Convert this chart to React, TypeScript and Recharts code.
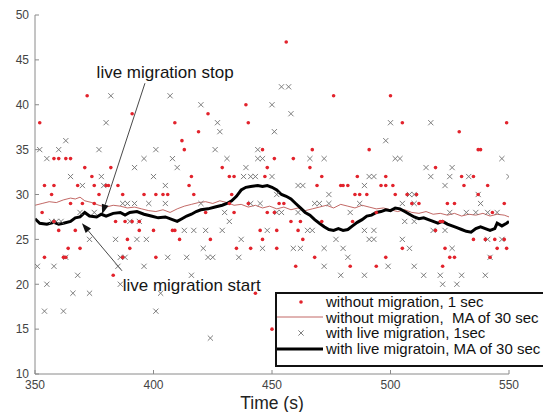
import React from 'react';
import { ComposedChart, Scatter, Line, XAxis, YAxis, Legend, ReferenceLine, ReferenceDot, Label } from 'recharts';

const xTicks = [350, 400, 450, 500, 550];
const yTicks = [10, 15, 20, 25, 30, 35, 40, 45, 50];

// without migration, 1 sec (red dots) [time, value]
const withoutMigration1s: [number, number][] = [
  [352,38],[372,41],[391,39],[409,38],[412,36],[413,35],[419,37],[423,39],[439,40],[440,38],[456,47],[476,41],[500,41],[505,38],[529,37],[549,38],
  [467,35],[491,35],[537,35],[538,35],[446,35],[451,34],[459,34],[358,34],[360,34],[363,34],[365,34],[371,33],[382,33],[429,33],[448,33],[466,33],[519,33],
  [374,32],[416,32],[432,32],[434,32],[447,32],[471,32],[486,32],[498,32],[530,32],[535,32],
  [354,31],[358,31],[368,31],[375,31],[380,31],[381,31],[385,31],[415,31],[469,31],[479,31],[480,31],[482,31],[496,31],[498,31],[501,31],[531,31],[541,31],
  [357,30],[377,30],[387,30],[396,30],[401,30],[404,30],[406,30],[417,30],[433,30],[485,30],[487,30],[490,30],[502,30],[507,30],[511,30],[537,30],
  [365,29],[370,29],[375,29],[432,29],[440,29],[453,29],[455,29],[509,29],[512,29],[524,29],[527,29],[548,29],
  [353,28],[422,28],[434,28],[448,28],[451,28],[494,28],[543,28],
  [358,27],[384,27],[388,27],[391,27],[394,27],[458,27],[462,27],[471,27],[484,27],[521,27],[522,27],
  [360,26],[367,26],[394,26],[400,26],[408,26],[409,26],[445,26],[452,26],[461,26],[519,26],
  [389,25],[411,25],[424,25],[446,25],[463,25],[535,25],[540,25],[544,25],[548,25],
  [364,24],[369,24],[390,24],[435,24],[441,24],[452,24],[505,24],[523,24],[545,24],[549,24],
  [354,23],[362,23],[363,23],[387,23],[401,23],[468,23],[498,23],[525,23],[527,23],[542,23],
  [460,22],[483,22],[494,22],[522,22],
  [383,21],[443,19],[450,15],
];

// with live migration, 1sec (gray crosses) [time, value]
const withMigration1s: [number, number][] = [
  [352,35],[355,34],[360,35],[363,36],[365,32],[370,31],[377,35],[382,41],[380,38],[378,32],[379,31],[392,33],[396,34],[401,35],[400,32],[405,31],
  [407,41],[408,34],[410,33],[420,40],[427,38],[428,37],[426,35],[431,34],[439,33],[438,32],[441,32],[443,32],[444,34],[446,34],[444,35],
  [450,40],[451,37],[454,42],[457,42],[458,39],[498,36],[500,38],[517,38],[466,34],[472,34],[502,34],[504,34],[547,34],[515,33],[526,33],
  [517,32],[525,32],[533,32],[550,32],[491,32],[493,32],[450,32],[461,31],[463,31],[489,31],[523,31],[474,30],[452,30],[508,30],[510,30],[537,30],
  [387,29],[389,29],[392,29],[398,29],[405,29],[420,29],[441,29],[445,29],[468,29],[470,29],[474,29],[487,29],[505,29],[510,29],[538,29],
  [369,28],[375,28],[430,28],[452,28],[454,28],[461,28],[483,28],[525,28],[532,28],[536,28],[541,28],[545,28],
  [357,27],[359,27],[361,27],[390,27],[394,27],[432,27],[506,27],[510,27],
  [413,26],[417,26],[422,26],[429,26],[448,26],[465,26],[467,26],[489,26],[493,26],[518,26],[523,26],
  [373,25],[384,25],[393,25],[397,25],[437,25],[477,25],[491,25],[493,25],[505,25],[541,25],[547,25],
  [421,24],[446,24],[459,24],[462,24],[472,24],[480,24],[508,24],[526,24],
  [363,23],[386,23],[388,23],[406,23],[414,23],[423,23],[425,23],[436,23],[482,23],[542,23],
  [351,22],[358,22],[385,22],[396,22],[472,22],[499,22],[510,22],
  [368,21],[416,21],[479,21],[489,21],[514,21],[521,21],[530,21],[540,21],
  [355,20],[386,20],[522,20],[528,20],
  [366,19],[373,19],[403,19],
  [354,17],[362,17],[401,17],
  [424,14],
];

// without migration, MA of 30 sec (thin red line)
const withoutMigrationMA: [number, number][] = [
  [350,28.8],[353,29.0],[356,29.2],[359,29.1],[362,29.4],[365,29.6],[367,29.5],[369,29.7],[371,29.3],[374,29.1],[377,28.8],[380,28.6],
  [383,28.8],[386,28.7],[389,28.5],[392,28.6],[395,28.4],[398,28.2],[401,28.1],[404,28.3],[407,28.0],[410,28.4],[413,28.7],[416,28.9],
  [419,29.1],[422,29.2],[425,29.0],[428,29.3],[431,29.1],[434,28.8],[437,28.9],[440,28.6],[443,28.8],[446,28.5],[449,28.7],[452,28.4],
  [455,28.6],[458,28.3],[461,28.5],[464,28.2],[467,28.4],[470,28.6],[473,28.8],[476,28.5],[479,28.9],[482,28.7],[485,28.5],[488,28.8],
  [491,28.6],[494,28.4],[497,28.5],[500,28.3],[503,28.1],[506,28.3],[509,28.0],[512,27.9],[515,28.1],[518,27.8],[521,27.9],[524,27.7],
  [527,27.9],[530,27.6],[533,27.8],[536,27.7],[539,27.9],[542,27.6],[545,27.8],[548,27.7],[550,27.5],
];

// with live migration, MA of 30 sec (thick black line)
const withMigrationMA: [number, number][] = [
  [350,27.3],[352,26.8],[355,26.7],[358,26.9],[360,26.7],[362,26.8],[365,27.0],[367,27.4],[369,27.5],[371,28.0],[373,27.6],[376,27.5],
  [378,27.8],[380,27.6],[383,27.9],[386,28.0],[388,27.7],[390,28.0],[393,28.1],[396,27.8],[399,27.6],[402,27.4],[405,27.5],[408,27.2],
  [410,27.0],[412,27.3],[414,27.6],[416,27.8],[418,28.1],[420,28.3],[423,28.4],[426,28.6],[429,28.8],[431,29.0],[433,29.3],[435,29.8],
  [437,30.5],[439,30.8],[441,30.9],[444,31.0],[446,30.9],[448,31.0],[450,30.8],[452,30.5],[454,30.0],[456,29.8],[458,29.5],[460,29.0],
  [462,28.5],[464,28.0],[466,27.7],[468,27.2],[470,26.8],[472,26.4],[474,26.1],[476,26.0],[478,26.2],[480,26.0],[482,26.1],[484,26.5],
  [486,26.9],[488,27.2],[490,27.6],[492,27.7],[494,28.0],[496,28.1],[498,28.3],[500,28.2],[502,28.5],[504,28.4],[506,28.1],[508,27.8],
  [510,27.5],[512,27.3],[514,27.4],[516,27.2],[518,27.0],[520,26.8],[522,27.0],[524,26.7],[526,26.5],[528,26.3],[530,26.1],[532,25.9],
  [534,25.8],[536,26.2],[538,26.4],[540,26.2],[542,26.0],[544,26.2],[545,26.8],[547,26.5],[549,26.8],[550,27.0],
];

const legendLabels = [
  'without migration, 1 sec',
  'without migration,  MA of 30 sec',
  'with live migration, 1sec',
  'with live migratoin, MA of 30 sec',
];

// annotation anchors in data units
const stopArrow = [{ x: 396.4, y: 42.4 }, { x: 378.3, y: 27.8 }];
const startArrow = [{ x: 386.7, y: 21.5 }, { x: 369.8, y: 26.8 }];
const stopText = { x: 376, y: 43.6, text: 'live migration stop' };
const startText = { x: 387, y: 19.9, text: 'live migration start' };

const rows = (a: [number, number][]) => a.map(([t, y]) => ({ t, y }));

const FONT = '"Liberation Sans", Arial, Helvetica, sans-serif';
const RED = '#e2232c';
const GRAY = '#6f6f6f';
const MA_RED = '#b2433f';

const RedDot = (p: any) => <circle cx={p.cx} cy={p.cy} r={1.8} fill={RED} />;
const GrayCross = (p: any) => {
  const { cx, cy } = p;
  const s = 2.6;
  return (
    <path
      d={`M${cx - s},${cy - s}L${cx + s},${cy + s}M${cx - s},${cy + s}L${cx + s},${cy - s}`}
      stroke={GRAY}
      strokeWidth={0.9}
      fill="none"
    />
  );
};

const Arrow = (p: any) => {
  const { x1, y1, x2, y2 } = p;
  const dx = x2 - x1;
  const dy = y2 - y1;
  const len = Math.sqrt(dx * dx + dy * dy) || 1;
  const ux = dx / len;
  const uy = dy / len;
  const hl = 10;
  const hw = 3.5;
  const bx = x2 - ux * hl;
  const by = y2 - uy * hl;
  return (
    <g>
      <line x1={x1} y1={y1} x2={bx} y2={by} stroke="#333" strokeWidth={0.9} />
      <polygon
        points={`${x2},${y2} ${bx - uy * hw},${by + ux * hw} ${bx + uy * hw},${by - ux * hw}`}
        fill="#111"
      />
    </g>
  );
};

const AnnText = (label: string) => (p: any) => (
  <text x={p.cx} y={p.cy} dy="0.35em" fontFamily={FONT} fontSize={17} fill="#151515">
    {label}
  </text>
);

const LegendBox = () => (
  <div
    style={{
      width: 272,
      height: 75,
      border: '2px solid #111',
      background: '#fff',
      boxSizing: 'border-box',
      fontFamily: FONT,
      fontSize: 15,
      color: '#111',
      paddingTop: 0,
    }}
  >
    {legendLabels.map((lab, i) => (
      <div key={i} style={{ display: 'flex', alignItems: 'center', height: 15.6, whiteSpace: 'pre' }}>
        <svg width={48} height={14} style={{ flex: 'none' }}>
          {i === 0 && <circle cx={24} cy={7} r={1.8} fill={RED} />}
          {i === 1 && <line x1={0} y1={7} x2={46} y2={7} stroke={MA_RED} strokeWidth={0.8} />}
          {i === 2 && (
            <path d="M21.4,4.4L26.6,9.6M21.4,9.6L26.6,4.4" stroke={GRAY} strokeWidth={0.9} fill="none" />
          )}
          {i === 3 && <line x1={0} y1={7} x2={46} y2={7} stroke="#000" strokeWidth={3} />}
        </svg>
        <span style={{ marginLeft: 1 }}>{lab}</span>
      </div>
    ))}
  </div>
);

export default function App() {
  return (
    <div style={{ position: 'absolute', left: 0, top: 0 }}>
      <ComposedChart width={543} height={412} margin={{ top: 15, right: 34, bottom: 0, left: 5 }}>
        <XAxis
          dataKey="t"
          type="number"
          domain={[350, 550]}
          ticks={xTicks}
          allowDataOverflow
          height={38}
          tickSize={-4}
          tickMargin={10}
          stroke="#8a8a8a"
          tick={{ fill: '#444', fontSize: 12, fontFamily: FONT }}
        >
          <Label value="Time (s)" position="insideBottom" offset={3} fontSize={17.5} fill="#222" fontFamily={FONT} />
        </XAxis>
        <YAxis
          dataKey="y"
          type="number"
          domain={[10, 50]}
          ticks={yTicks}
          allowDataOverflow
          width={30}
          tickSize={-4}
          tickMargin={10}
          stroke="#8a8a8a"
          tick={{ fill: '#444', fontSize: 12, fontFamily: FONT }}
        />
        <Scatter name={legendLabels[2]} data={rows(withMigration1s)} shape={GrayCross} isAnimationActive={false} />
        <Scatter name={legendLabels[0]} data={rows(withoutMigration1s)} shape={RedDot} isAnimationActive={false} />
        <Line
          name={legendLabels[1]}
          data={rows(withoutMigrationMA)}
          dataKey="y"
          type="linear"
          stroke={MA_RED}
          strokeWidth={0.8}
          dot={false}
          activeDot={false}
          isAnimationActive={false}
        />
        <Line
          name={legendLabels[3]}
          data={rows(withMigrationMA)}
          dataKey="y"
          type="linear"
          stroke="#000"
          strokeWidth={3}
          dot={false}
          activeDot={false}
          isAnimationActive={false}
        />
        <ReferenceLine segment={stopArrow} shape={Arrow} ifOverflow="visible" />
        <ReferenceLine segment={startArrow} shape={Arrow} ifOverflow="visible" />
        <ReferenceDot x={stopText.x} y={stopText.y} r={0} shape={AnnText(stopText.text)} ifOverflow="visible" />
        <ReferenceDot x={startText.x} y={startText.y} r={0} shape={AnnText(startText.text)} ifOverflow="visible" />
        <Legend
          layout="vertical"
          align="center"
          verticalAlign="middle"
          wrapperStyle={{ left: 275, top: 292, width: 272 }}
          content={LegendBox}
        />
      </ComposedChart>
    </div>
  );
}
